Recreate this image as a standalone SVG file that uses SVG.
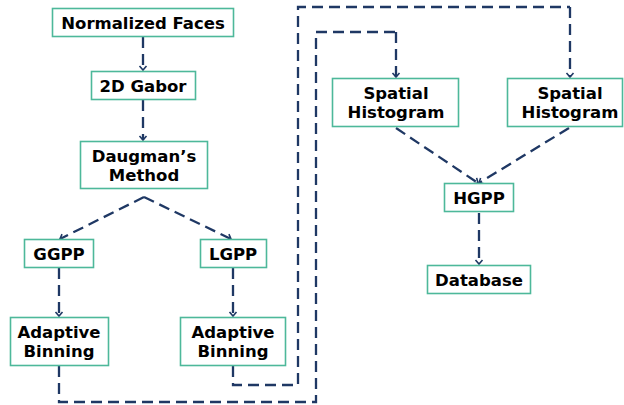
<svg xmlns="http://www.w3.org/2000/svg" width="624" height="405" viewBox="0 0 624 405">
<defs>
<marker id="ah" markerWidth="10" markerHeight="10" refX="5" refY="5" orient="auto" markerUnits="userSpaceOnUse" viewBox="0 0 10 10">
<path d="M1,1.5 L5,5 L1,8.5" fill="none" stroke="#1f3864" stroke-width="1.6"/>
</marker>
</defs>
<style>
.box{fill:#fff;stroke:#4db89a;stroke-width:1.6}
.t{font-family:"DejaVu Sans",Verdana,sans-serif;font-weight:bold;font-size:16.5px;fill:#000;text-anchor:middle}
.c{fill:none;stroke:#1f3864;stroke-width:2.3;stroke-dasharray:11 6}
.a{marker-end:url(#ah)}
</style>
<rect width="624" height="405" fill="#fff"/>
<g id="connectors">
<path class="c a" d="M143,37 V70"/>
<path class="c a" d="M143,100 V140"/>
<path class="c a" d="M144,197 L60,239"/>
<path class="c a" d="M144,197 L231,239"/>
<path class="c a" d="M59,268 V316"/>
<path class="c a" d="M233,268 V316"/>
<path class="c" d="M59,366 V402 H316 V32 H396"/>
<path class="c a" d="M396,32 V77"/>
<path class="c" d="M233,366 V385 H298 V7 H570"/>
<path class="c a" d="M570,7 V77"/>
<path class="c a" d="M396,128 L478,183"/>
<path class="c a" d="M569,128 L479,183"/>
<path class="c a" d="M479,213 V264"/>
</g>
<g id="normalized-faces"><rect class="box" x="52.5" y="8.5" width="181" height="28"/><text class="t" x="143" y="29">Normalized Faces</text></g>
<g id="gabor"><rect class="box" x="91.5" y="71.5" width="104" height="28"/><text class="t" x="143" y="92">2D Gabor</text></g>
<g id="daugman"><rect class="box" x="80.5" y="141.5" width="127" height="47"/><text class="t" x="144" y="162">Daugman’s</text><text class="t" x="144" y="181">Method</text></g>
<g id="ggpp"><rect class="box" x="24.5" y="239.5" width="69" height="28"/><text class="t" x="59" y="260">GGPP</text></g>
<g id="lgpp"><rect class="box" x="200.5" y="239.5" width="66" height="28"/><text class="t" x="233" y="260">LGPP</text></g>
<g id="binning-left"><rect class="box" x="10.5" y="317.5" width="98" height="48"/><text class="t" x="59" y="338">Adaptive</text><text class="t" x="59" y="357">Binning</text></g>
<g id="binning-right"><rect class="box" x="180.5" y="317.5" width="105" height="48"/><text class="t" x="233" y="338">Adaptive</text><text class="t" x="233" y="357">Binning</text></g>
<g id="histogram-left"><rect class="box" x="332.5" y="78.5" width="126" height="48"/><text class="t" x="396" y="99">Spatial</text><text class="t" x="396" y="118">Histogram</text></g>
<g id="histogram-right"><rect class="box" x="507.5" y="78.5" width="115" height="48"/><text class="t" x="570" y="99">Spatial</text><text class="t" x="570" y="118">Histogram</text></g>
<g id="hgpp"><rect class="box" x="444.5" y="183.5" width="69" height="28"/><text class="t" x="479" y="204">HGPP</text></g>
<g id="database"><rect class="box" x="427.5" y="265.5" width="103" height="28"/><text class="t" x="479" y="286">Database</text></g>
</svg>
